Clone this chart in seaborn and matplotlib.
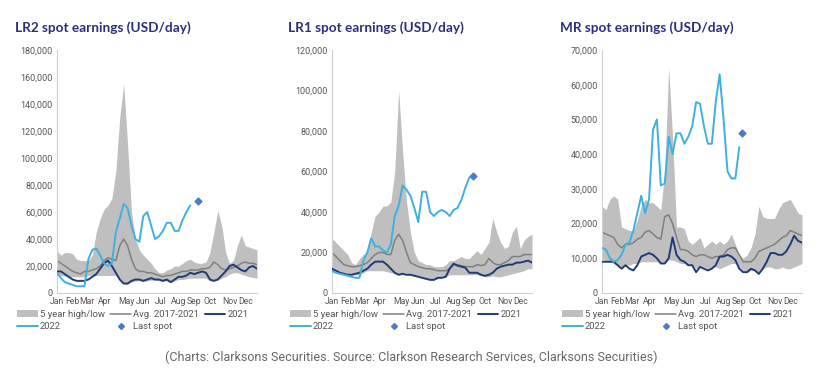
import numpy as np
import matplotlib.pyplot as plt
import seaborn as sns
from matplotlib.patches import Patch
from matplotlib.lines import Line2D

# ---------------- data (weekly, USD/day) ----------------
months = ["Jan", "Feb", "Mar", "Apr", "May", "Jun", "Jul", "Aug", "Sep", "Oct", "Nov", "Dec"]
month_weeks = [1, 5, 8.7, 13.2, 18.8, 23, 27.4, 32, 36, 40, 45, 49]
weeks = np.arange(1, 53)

lr2_high = [31000, 28000, 30000, 30000, 29000, 25000, 24000, 24000, 24000, 28000, 45000, 55000, 62000, 65000,
            70000, 90000, 130000, 155000, 110000, 60000, 40000, 32000, 28000, 25000, 22000, 18000, 15000,
            15000, 17000, 18000, 20000, 20000, 22000, 24000, 25000, 23000, 22000, 22000, 23000, 30000,
            45000, 61000, 50000, 30000, 22000, 24000, 35000, 43000, 35000, 34000, 33000, 32000]
lr2_low = [13000, 13000, 12500, 12000, 12000, 12000, 12000, 12000, 13000, 13000, 13000, 13000, 13000, 13000,
           13000, 13000, 10000, 7000, 6500, 8000, 9000, 9000, 8500, 9000, 9500, 9500, 9000, 8500, 9000,
           8000, 9000, 10000, 10000, 10500, 11000, 11000, 11000, 11000, 11000, 9000, 9000, 9500, 11000,
           12000, 14000, 15000, 15000, 14000, 13000, 12000, 11500, 11000]
lr2_avg = [24000, 22000, 20000, 18000, 16000, 15000, 14000, 16000, 16000, 17000, 18000, 20000, 24000, 26000,
           25000, 24000, 35000, 40000, 35000, 25000, 18000, 16000, 16000, 15000, 15000, 14000, 13000,
           12000, 13000, 13000, 14000, 15000, 16000, 16000, 17000, 17000, 17000, 18000, 18000, 19000,
           23000, 21000, 18000, 17000, 18000, 19000, 20000, 22000, 23000, 22000, 22000, 21000]
lr2_2021 = [16000, 16000, 14000, 12000, 10000, 9000, 9000, 9000, 10000, 12000, 14000, 18000, 22000, 24000,
            20000, 15000, 10000, 7000, 7000, 9000, 10000, 10000, 9000, 10000, 11000, 10000, 10000, 9000,
            10000, 8000, 10000, 12000, 12000, 13000, 15000, 14000, 15000, 16000, 15000, 10000, 9000,
            10000, 13000, 16000, 20000, 21000, 19000, 17000, 16000, 19000, 20000, 18000]
lr2_2022 = [15000, 11000, 8000, 7000, 6000, 5000, 5000, 5000, 25000, 32000, 33000, 28000, 22000, 20000,
            22000, 45000, 55000, 66000, 63000, 50000, 40000, 38000, 57000, 60000, 50000, 40000, 42000,
            46000, 52000, 52000, 46000, 46000, 54000, 60000, 65000]
lr2_last = [37, 68000]

lr1_high = [27000, 25000, 23000, 21000, 19000, 15000, 14000, 17000, 19000, 20000, 30000, 38000, 40000, 43000,
            43000, 45000, 60000, 100000, 70000, 45000, 30000, 20000, 16000, 15000, 14000, 14000, 13000,
            13000, 13000, 14000, 16000, 16000, 17000, 18000, 17000, 17000, 19000, 21000, 19000, 22000,
            25000, 37000, 30000, 25000, 22000, 23000, 30000, 33000, 22000, 26000, 28000, 29000]
lr1_low = [10000, 10000, 9500, 9000, 9000, 9000, 9000, 9000, 10000, 11000, 11000, 11000, 11000, 11000,
           10500, 10000, 9500, 9000, 9000, 9000, 9000, 8500, 8000, 7500, 7000, 6500, 6500, 7000, 7500,
           8000, 9000, 9000, 9000, 9000, 9000, 9000, 9000, 9000, 8500, 8000, 8000, 8500, 8000, 8000,
           8500, 9000, 9500, 10000, 10500, 11000, 12000, 12000]
lr1_avg = [20000, 18000, 16000, 14000, 13500, 13000, 13000, 13500, 14000, 15000, 17000, 19000, 20000, 20000,
           19000, 19000, 26000, 29000, 26000, 20000, 15000, 14000, 13000, 12500, 12000, 12000, 11500,
           11000, 11000, 11000, 12000, 14000, 14000, 13500, 13000, 13000, 13000, 14000, 13500, 14000,
           17000, 15000, 14000, 14000, 15000, 16000, 18000, 18000, 18000, 19000, 19000, 19000]
lr1_2021 = [12000, 11000, 10000, 9500, 9000, 9000, 9500, 10000, 11000, 12000, 14000, 15500, 15500, 15500,
            14000, 12000, 10000, 9000, 9500, 9000, 9000, 8500, 8000, 7500, 7000, 6500, 6500, 7500, 7500,
            8000, 12000, 14500, 13500, 13000, 12500, 10000, 10000, 10000, 9000, 8500, 9000, 10000, 12000,
            13000, 13500, 14000, 14000, 15000, 15000, 15500, 16000, 15000]
lr1_2022 = [11000, 10000, 9500, 9000, 8500, 8000, 7500, 7500, 16000, 20000, 27000, 23000, 23000, 21000,
            20000, 24000, 38000, 43000, 53000, 51000, 48000, 42000, 35000, 50000, 50000, 40000, 38000,
            40000, 41000, 40000, 38000, 41000, 42000, 46000, 52000, 57000]
lr1_last = [37, 58000]

mr_high = [25000, 24000, 27000, 28000, 27000, 19000, 18500, 18000, 18000, 21000, 25000, 27000, 26000, 26000,
           25000, 24000, 35000, 65000, 45000, 19000, 19000, 18500, 15000, 14000, 15000, 16000, 13000,
           14000, 15000, 14000, 15000, 14000, 15000, 17000, 14000, 11000, 10000, 11000, 13000, 17000,
           25000, 22000, 21500, 21500, 21500, 24000, 26000, 26500, 27000, 25000, 23000, 22500]
mr_low = [10000, 9000, 9000, 8500, 8000, 7500, 8000, 8000, 8500, 8500, 9000, 9000, 9000, 9000, 9000, 8500,
          8500, 9500, 9500, 9000, 8500, 8500, 8000, 8000, 7000, 7500, 7500, 7000, 7500, 7500, 7000, 7500,
          8000, 8500, 8500, 7500, 6500, 6000, 6500, 6500, 6000, 7000, 7500, 7500, 7000, 7000, 7500,
          7000, 7000, 7500, 8000, 8500]
mr_avg = [17500, 17000, 16500, 16000, 14000, 13000, 14000, 14000, 14500, 15500, 16000, 17500, 18000, 17000,
          16000, 15500, 22000, 22500, 20000, 16000, 12500, 12500, 12000, 11000, 10500, 11000, 11000, 10500,
          10000, 10500, 10500, 11000, 12500, 13000, 13000, 11000, 9000, 9000, 9000, 10000, 12000, 12500,
          13000, 13500, 14000, 15000, 16000, 16500, 18000, 17500, 17000, 16500]
mr_2021 = [9000, 9000, 9000, 9000, 8000, 7000, 8000, 7000, 6500, 8000, 10500, 11000, 11500, 11000, 10000,
           8500, 8500, 10000, 16000, 11000, 9500, 9000, 8000, 8000, 6000, 7500, 7000, 6500, 7000, 8000,
           10500, 10500, 11000, 10500, 9500, 7000, 6000, 6000, 7000, 6500, 5500, 7000, 9000, 11500, 11500,
           11000, 11000, 12000, 14000, 16500, 15000, 14500]
mr_2022 = [13000, 12500, 10000, 9000, 9500, 11000, 14000, 14500, 18000, 23000, 28000, 23000, 27000, 47000,
           50000, 31000, 31500, 45000, 40000, 46000, 46000, 43000, 45000, 48000, 55000, 54500, 48000,
           43000, 43000, 55000, 63000, 50000, 35000, 33000, 33000, 42000]
mr_last = [36.8, 46000]

panels = [
    ("LR2 spot earnings (USD/day)", lr2_high, lr2_low, lr2_avg, lr2_2021, lr2_2022, lr2_last, 180000, 20000),
    ("LR1 spot earnings (USD/day)", lr1_high, lr1_low, lr1_avg, lr1_2021, lr1_2022, lr1_last, 120000, 20000),
    ("MR spot earnings (USD/day)", mr_high, mr_low, mr_avg, mr_2021, mr_2022, mr_last, 70000, 10000),
]

# ---------------- style ----------------
sns.set_style("white")
plt.rcParams['font.family'] = ['Roboto', 'DejaVu Sans']

BAND = "#bfbfbf"
AVG = "#808080"
Y21 = "#1f3b78"
Y22 = "#3fb0e0"
LAST = "#4a7cc4"
TITLE = "#2b2f7a"
TXT = "#555555"

fig = plt.figure(figsize=(8.22, 3.75), dpi=100)

axes_left = [57, 332, 602]
title_x = [15, 288, 560]

for i, (title, hi, lo, avg, y21, y22, last, ymax, ystep) in enumerate(panels):
    ax = fig.add_axes([axes_left[i] / 822, 1 - 293 / 375, 200 / 822, 243 / 375])
    ax.fill_between(weeks, lo, hi, color=BAND, lw=0, zorder=1)
    sns.lineplot(x=weeks, y=avg, color=AVG, lw=1.1, ax=ax, zorder=2)
    sns.lineplot(x=weeks, y=y21, color=Y21, lw=1.4, ax=ax, zorder=3)
    sns.lineplot(x=weeks[:len(y22)], y=y22, color=Y22, lw=1.4, ax=ax, zorder=4)
    ax.scatter([last[0]], [last[1]], marker="D", s=12, color=LAST, zorder=5)

    ax.set_xlim(1, 52)
    ax.set_ylim(0, ymax)
    yt = np.arange(0, ymax + 1, ystep)
    ax.set_yticks(yt)
    ax.set_yticklabels([f"{int(v):,}" for v in yt], fontsize=6.5, color=TXT)
    ax.set_xticks(month_weeks)
    ax.set_xticklabels(months, fontsize=6.2, color=TXT)
    ax.tick_params(length=0, pad=3)
    for s in ["top", "right"]:
        ax.spines[s].set_visible(False)
    for s in ["left", "bottom"]:
        ax.spines[s].set_color("#d0d0d0")
        ax.spines[s].set_linewidth(0.8)

    fig.text(title_x[i] / 822, 1 - 28 / 375, title, fontsize=9.8, fontweight="bold",
             color=TITLE, family=["Lato", "DejaVu Sans"], va="center", ha="left")

    handles = [
        Patch(color=BAND, lw=0),
        Line2D([], [], color=Y22, lw=1.4),
        Line2D([], [], color=AVG, lw=1.1),
        Line2D([], [], color=LAST, lw=0, marker="D", markersize=3),
        Line2D([], [], color=Y21, lw=1.4),
    ]
    labels = ["5 year high/low", "2022", "Avg. 2017-2021", "Last spot", "2021"]
    fig.legend(handles, labels, ncol=3, loc="upper left",
               bbox_to_anchor=((title_x[i] + 2) / 822, 1 - 310 / 375),
               frameon=False, fontsize=6.8, handlelength=2.2, handletextpad=0.2,
               columnspacing=0.6, labelspacing=0.3, borderaxespad=0, borderpad=0,
               labelcolor=TXT)

fig.text(411 / 822, 1 - 357 / 375,
         "(Charts: Clarksons Securities. Source: Clarkson Research Services, Clarksons Securities)",
         fontsize=9, color="#666666", ha="center", va="center")

fig.savefig("out.png", dpi=100, facecolor="white")
